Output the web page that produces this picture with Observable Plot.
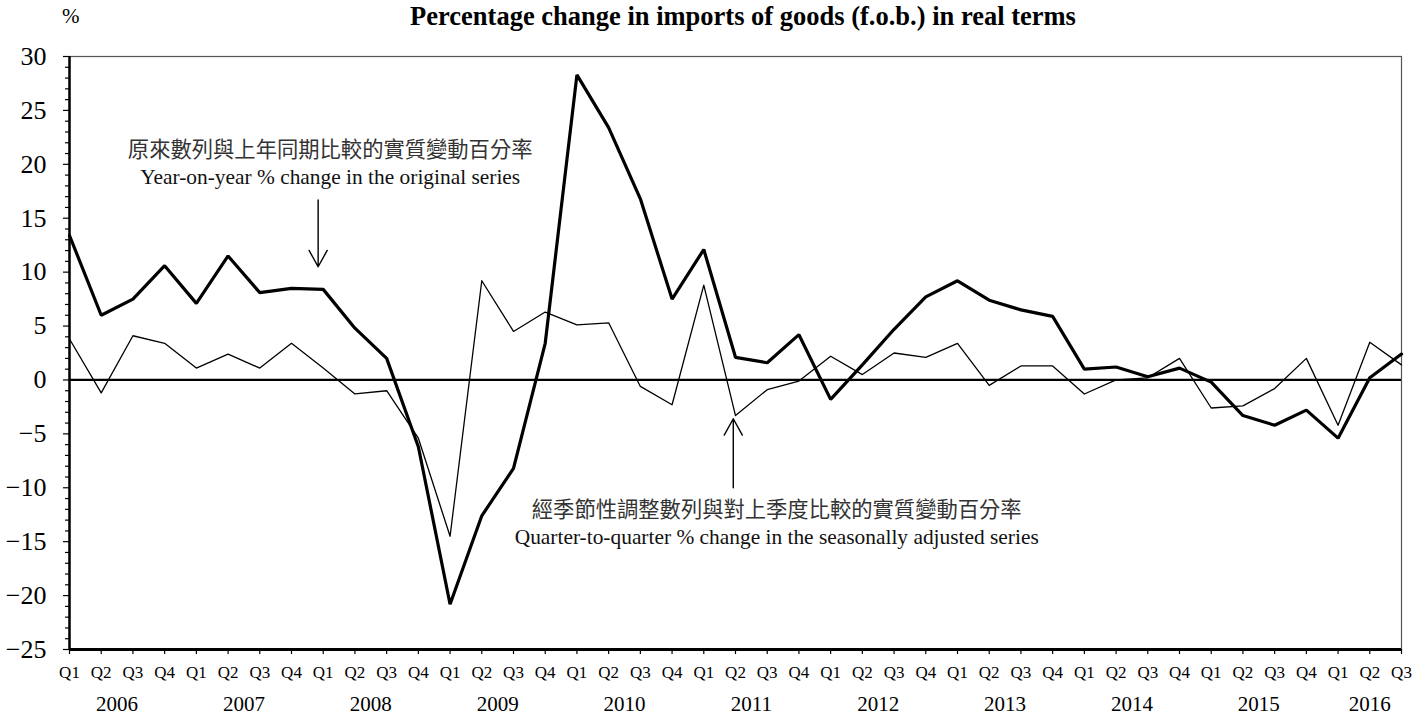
<!DOCTYPE html>
<html>
<head>
<meta charset="utf-8">
<script src="https://cdn.jsdelivr.net/npm/d3@7"></script>
<script src="https://cdn.jsdelivr.net/npm/@observablehq/plot@0.6"></script>
<style>
  html, body { margin: 0; padding: 0; background: #fff; }
  #wrap { position: relative; width: 1415px; height: 715px; font-family: "Liberation Serif", "Times New Roman", serif; }
  #head { position: relative; height: 40px; }
  #unit { position: absolute; left: 62px; top: 6px; font-size: 21px; line-height: 1; }
  #title { position: absolute; left: 743px; top: 3px; transform: translateX(-50%); font-size: 26.5px; line-height: 1; font-weight: bold; white-space: nowrap; }
</style>
</head>
<body>
<div id="wrap">
  <div id="head"><span id="unit">%</span><span id="title">Percentage change in imports of goods (f.o.b.) in real terms</span></div>
  <div id="chart"></div>
</div>
<script>
// ---- data ----
const years = ["2006","2007","2008","2009","2010","2011","2012","2013","2014","2015","2016"];
const quarterLabels = [
  "Q1","Q2","Q3","Q4", "Q1","Q2","Q3","Q4", "Q1","Q2","Q3","Q4", "Q1","Q2","Q3","Q4",
  "Q1","Q2","Q3","Q4", "Q1","Q2","Q3","Q4", "Q1","Q2","Q3","Q4", "Q1","Q2","Q3","Q4",
  "Q1","Q2","Q3","Q4", "Q1","Q2","Q3","Q4", "Q1","Q2","Q3"
];
// Year-on-year % change in the original series (thick line)
const yoy = [
  13.4, 6.0, 7.5, 10.6,
  7.1, 11.5, 8.1, 8.5,
  8.4, 4.8, 2.0, -6.2,
  -20.8, -12.6, -8.2, 3.4,
  28.3, 23.4, 16.8, 7.5,
  12.1, 2.1, 1.6, 4.2,
  -1.8, 1.4, 4.7, 7.7,
  9.2, 7.4, 6.5, 5.9,
  1.0, 1.2, 0.3, 1.1,
  -0.2, -3.3, -4.2, -2.8,
  -5.4, 0.2, 2.4
];
// Quarter-to-quarter % change in the seasonally adjusted series (thin line)
const qoq = [
  3.8, -1.2, 4.1, 3.4,
  1.1, 2.4, 1.1, 3.4,
  1.1, -1.3, -1.0, -5.4,
  -14.5, 9.2, 4.5, 6.3,
  5.1, 5.3, -0.6, -2.3,
  8.8, -3.3, -0.9, -0.1,
  2.2, 0.5, 2.5, 2.1,
  3.4, -0.5, 1.3, 1.3,
  -1.3, 0.0, 0.2, 2.0,
  -2.6, -2.4, -0.8, 2.0,
  -4.2, 3.5, 1.4
];
const yTicks = [-25, -20, -15, -10, -5, 0, 5, 10, 15, 20, 25, 30];
const annotations = [
  {lines: ["原來數列與上年同期比較的實質變動百分率", "Year-on-year % change in the original series"], x: 8.22, y: 21.3, arrowX: 7.84, arrowFrom: 16.7, arrowTo: 10.5},
  {lines: ["經季節性調整數列與對上季度比較的實質變動百分率", "Quarter-to-quarter % change in the seasonally adjusted series"], x: 22.3, y: -12.1, arrowX: 20.93, arrowFrom: -10.0, arrowTo: -3.6}
];

// ---- derived tables ----
const table = quarterLabels.map((q, i) => ({i, q, yoy: yoy[i], qoq: qoq[i], year: years[Math.floor(i / 4)]}));
const yearPos = years.map(y => ({year: y, x: d3.mean(table.filter(d => d.year === y), d => d.i)}));
const minor = d3.range(-25, 31, 1).filter(v => v % 5 !== 0);
const cjk = "'Noto Sans CJK TC', 'Noto Sans CJK SC', sans-serif";

const chart = Plot.plot({
  width: 1415,
  height: 675,
  marginTop: 16,
  marginBottom: 66,
  marginLeft: 69,
  marginRight: 14,
  style: {fontFamily: "'Liberation Serif', 'Times New Roman', serif", background: "#fff", color: "#000"},
  x: {domain: [0, quarterLabels.length - 1]},
  y: {domain: [-25, 30]},
  marks: [
    Plot.frame({stroke: "#555", strokeWidth: 1.2}),
    Plot.axisY({ticks: minor, tickSize: 4, tickFormat: () => "", strokeWidth: 1.2}),
    Plot.axisY({ticks: yTicks, tickSize: 6, tickPadding: 17, fontSize: 26, strokeWidth: 1.2}),
    Plot.axisX({ticks: table.map(d => d.i), tickSize: 5, tickPadding: 11, fontSize: 17, tickFormat: i => quarterLabels[i], strokeWidth: 1.2}),
    Plot.text(yearPos, {x: "x", frameAnchor: "bottom", dy: 55, text: "year", fontSize: 21, lineAnchor: "middle"}),
    Plot.ruleX([0], {stroke: "#000", strokeWidth: 2.5}),
    Plot.ruleY([-25], {stroke: "#000", strokeWidth: 3}),
    Plot.ruleY([0], {stroke: "#000", strokeWidth: 2.2}),
    Plot.line(table, {x: "i", y: "qoq", stroke: "#000", strokeWidth: 1.3}),
    Plot.line(table, {x: "i", y: "yoy", stroke: "#000", strokeWidth: 3.2, strokeLinejoin: "miter"}),
    Plot.arrow(annotations, {x1: "arrowX", x2: "arrowX", y1: "arrowFrom", y2: "arrowTo", stroke: "#000", strokeWidth: 1.4, headLength: 20, headAngle: 58}),
    Plot.text(annotations, {x: "x", y: "y", text: d => d.lines[0], fontFamily: cjk, fontSize: 21.3, fill: "#333", lineAnchor: "middle"}),
    Plot.text(annotations, {x: "x", y: "y", dy: 27, text: d => d.lines[1], fontSize: 21.4, fill: "#111", lineAnchor: "middle"})
  ]
});
document.getElementById("chart").appendChild(chart);
</script>
</body>
</html>
